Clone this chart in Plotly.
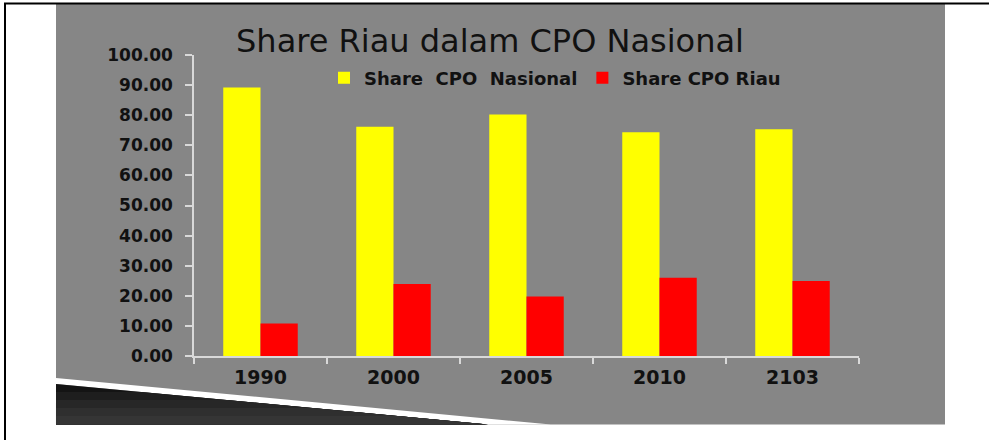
import plotly.graph_objects as go

years = ["1990", "2000", "2005", "2010", "2103"]
share_nasional = [89.2, 76.2, 80.2, 74.3, 75.3]
share_riau = [10.8, 23.9, 19.8, 26.0, 24.9]
y_ticks = [0, 10, 20, 30, 40, 50, 60, 70, 80, 90, 100]

W, H = 989, 440
L, R, T, B = 194, 859, 55, 356  # plot area in pixels

def px(x):
    return (x - L) / (R - L)

def py(y):
    return (B - y) / (B - T)

FONT = "DejaVu Sans"
TXT = "#111111"
BG = "#868686"

fig = go.Figure()
fig.add_trace(go.Bar(x=years, y=share_nasional, name="Share  CPO  Nasional",
                     marker=dict(color="#ffff00", line=dict(width=0))))
fig.add_trace(go.Bar(x=years, y=share_riau, name="Share CPO Riau",
                     marker=dict(color="#ff0000", line=dict(width=0))))

def path(pts):
    return "M " + " L ".join(f"{px(a):.5f},{py(b):.5f}" for a, b in pts) + " Z"

shapes = []
# gray slide background
shapes.append(dict(type="rect", xref="paper", yref="paper", layer="below",
                   x0=px(56), x1=px(945), y0=py(424.5), y1=py(4),
                   fillcolor=BG, line=dict(width=0)))
# decoration at bottom-left: white stripe and dark gradient wedge
shapes.append(dict(type="path", xref="paper", yref="paper", layer="below",
                   path=path([(56, 378), (551, 424.5), (488, 424.5), (56, 384)]),
                   fillcolor="#ffffff", line=dict(width=0)))
x_edge = lambda y: 56 + (y - 384) * 432 / 40.5
bands = [(384, "#141414"), (392, "#1e1e1e"), (400, "#272727"), (408, "#2f2f2f"), (416, "#353535")]
for y0, col in bands:
    shapes.append(dict(type="path", xref="paper", yref="paper", layer="below",
                       path=path([(56, y0), (x_edge(y0), y0), (488, 424.5), (56, 424.5)]),
                       fillcolor=col, line=dict(width=0)))
# black frame lines
shapes.append(dict(type="line", xref="paper", yref="paper",
                   x0=px(4), x1=px(989), y0=py(3.5), y1=py(3.5),
                   line=dict(color="black", width=2)))
shapes.append(dict(type="line", xref="paper", yref="paper",
                   x0=px(5), x1=px(5), y0=py(3), y1=py(440),
                   line=dict(color="black", width=2)))

fig.update_layout(
    width=W, height=H,
    margin=dict(l=L, r=W - R, t=T, b=H - B, pad=0),
    paper_bgcolor="white",
    plot_bgcolor=BG,
    barmode="group",
    bargap=0.44,
    bargroupgap=0,
    shapes=shapes,
    title=dict(text="Share Riau dalam CPO Nasional",
               x=490 / W, xanchor="center", xref="container",
               y=1 - 41 / H, yanchor="middle", yref="container",
               font=dict(family=FONT, size=32, color=TXT)),
    legend=dict(orientation="h", x=px(324), xanchor="left",
                y=py(78), yanchor="middle",
                bgcolor="rgba(0,0,0,0)",
                font=dict(family=FONT, size=18, color=TXT, weight="bold"),
                itemclick=False, tracegroupgap=0),
    xaxis=dict(showgrid=False, showline=True, linecolor="#d9d9d9", linewidth=1.5,
               ticks="outside", tickson="boundaries", ticklen=6,
               tickcolor="#d9d9d9", tickwidth=1.5,
               tickfont=dict(family=FONT, size=19, color=TXT, weight="bold"),
               ticklabelstandoff=3),
    yaxis=dict(range=[0, 100], tickvals=y_ticks, tickformat=".2f",
               showgrid=False, zeroline=False,
               showline=True, linecolor="#d9d9d9", linewidth=1.5,
               ticks="outside", ticklen=7, tickcolor="#d9d9d9", tickwidth=1.5,
               tickfont=dict(family=FONT, size=17, color=TXT, weight="bold"),
               ticklabelstandoff=9),
)

fig.write_html("out.html", config={"displayModeBar": False},
               post_script="document.body.style.margin='0';")
